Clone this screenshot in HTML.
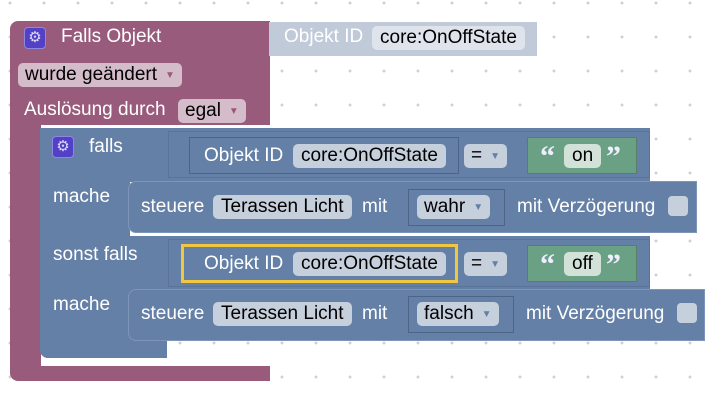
<!DOCTYPE html>
<html><head><meta charset="utf-8"><style>
body{margin:0;width:720px;height:403px;overflow:hidden;background:#fff;
background-image:radial-gradient(circle,#d0d0d0 1.3px,transparent 1.6px);background-size:34px 34px;background-position:-7px -14px;
font-family:"Liberation Sans",sans-serif;font-size:19px;position:relative}
div{position:absolute;box-sizing:border-box}
.p{background:#995b7b}
.b{background:#6580a6}
.t{color:#fff;white-space:nowrap;line-height:20px}
.f{background:#c6cfdc;color:#000;border-radius:5px;height:24px;line-height:24px;padding:0 8px;white-space:nowrap}
.pf{background:#d5bccb;color:#000;border-radius:5px;height:24px;line-height:24px;padding:0 7px;white-space:nowrap}
.o{border:1px solid #4c6587}
.ar{font-size:10px;color:#6580a6;margin-left:8px;vertical-align:2px}
.pa{font-size:10px;color:#995b7b;margin-left:8px;vertical-align:2px}
.g{background:#6aa084;border:1px solid #557f69}
.gear{width:22px;height:22px;background:#5240c6;border-radius:4px;border:1px solid #8f86e0;color:#dcd8f5;font-size:15px;line-height:20px;text-align:center}
.cb{width:20px;height:20px;background:#c6cfdc;border-radius:4px}
.q{color:#eef;font-size:30px;font-weight:bold;line-height:30px;font-family:"Liberation Serif",serif}
</style></head><body>
<div class="p" style="left:10px;top:21px;width:260px;height:104px;border-radius:8px 0 0 0"></div>
<div class="p" style="left:10px;top:120px;width:31px;height:260px;border-radius:0 0 0 8px"></div>
<div class="p" style="left:10px;top:366px;width:260px;height:15px;border-radius:0 0 0 8px"></div>
<div class="gear" style="left:24px;top:27px">⚙</div>
<div class="t" style="left:61px;top:27px">Falls Objekt</div>
<div class="pf" style="left:18px;top:63px">wurde geändert<span class="pa">▼</span></div>
<div class="t" style="left:24px;top:100px">Auslösung durch</div>
<div class="pf" style="left:178px;top:99px">egal<span class="pa">▼</span></div>
<div style="left:269px;top:22px;width:268px;height:34px;background:#c1cad9"></div>
<div class="t" style="left:284px;top:27px">Objekt ID</div>
<div class="f" style="left:372px;top:26px;background:#dfe4ec">core:OnOffState</div>
<div class="b" style="left:40px;top:128px;width:610px;height:54px;border-radius:8px 0 0 0"></div>
<div class="b" style="left:40px;top:128px;width:90px;height:230px;border-radius:0 0 0 8px"></div>
<div class="b" style="left:40px;top:236px;width:610px;height:56px"></div>
<div class="b" style="left:40px;top:338px;width:127px;height:20px;border-radius:0 0 0 8px"></div>
<div class="gear" style="left:52px;top:136px">⚙</div>
<div class="t" style="left:89px;top:137px">falls</div>
<div class="t" style="left:53px;top:187px">mache</div>
<div class="t" style="left:53px;top:245px">sonst falls</div>
<div class="t" style="left:53px;top:295px">mache</div>
<div class="o" style="left:168px;top:131px;width:482px;height:47px;background:#6580a6;border-color:#5a7499"></div>
<div class="o" style="left:189px;top:137px;width:270px;height:37px"></div>
<div class="t" style="left:204px;top:146px">Objekt ID</div>
<div class="f" style="left:293px;top:144px">core:OnOffState</div>
<div class="f" style="left:464px;top:144px;padding:0 7px">=<span class="ar">▼</span></div>
<div class="g" style="left:527px;top:137px;width:110px;height:37px"></div>
<div class="t q" style="left:540px;top:142px">“</div>
<div class="f" style="left:564px;top:144px;background:#d2e2d9">on</div>
<div class="t q" style="left:606px;top:142px">”</div>
<div class="b" style="left:128px;top:181px;width:569px;height:52px;border:1px solid #7d95b8;border-radius:8px 0 0 8px"></div>
<div class="t" style="left:141px;top:197px">steuere</div>
<div class="f" style="left:213px;top:195px">Terassen Licht</div>
<div class="t" style="left:362px;top:197px">mit</div>
<div class="o" style="left:408px;top:189px;width:97px;height:37px"></div>
<div class="f" style="left:417px;top:195px;padding:0 7px">wahr<span class="ar">▼</span></div>
<div class="t" style="left:517px;top:197px">mit Verzögerung</div>
<div class="cb" style="left:668px;top:196px"></div>
<div class="o" style="left:168px;top:239px;width:482px;height:48px;background:#6580a6;border-color:#5a7499"></div>
<div style="left:181px;top:244px;width:277px;height:39px;border:3px solid #f1c740"></div>
<div class="t" style="left:204px;top:254px">Objekt ID</div>
<div class="f" style="left:293px;top:252px">core:OnOffState</div>
<div class="f" style="left:464px;top:252px;padding:0 7px">=<span class="ar">▼</span></div>
<div class="g" style="left:527px;top:245px;width:110px;height:37px"></div>
<div class="t q" style="left:540px;top:250px">“</div>
<div class="f" style="left:564px;top:252px;background:#d2e2d9">off</div>
<div class="t q" style="left:606px;top:250px">”</div>
<div class="b" style="left:128px;top:289px;width:577px;height:52px;border:1px solid #7d95b8;border-radius:8px 0 0 8px"></div>
<div class="t" style="left:141px;top:304px">steuere</div>
<div class="f" style="left:213px;top:302px">Terassen Licht</div>
<div class="t" style="left:362px;top:304px">mit</div>
<div class="o" style="left:408px;top:296px;width:106px;height:37px"></div>
<div class="f" style="left:417px;top:302px;padding:0 7px">falsch<span class="ar">▼</span></div>
<div class="t" style="left:526px;top:304px">mit Verzögerung</div>
<div class="cb" style="left:677px;top:303px"></div>
</body></html>
